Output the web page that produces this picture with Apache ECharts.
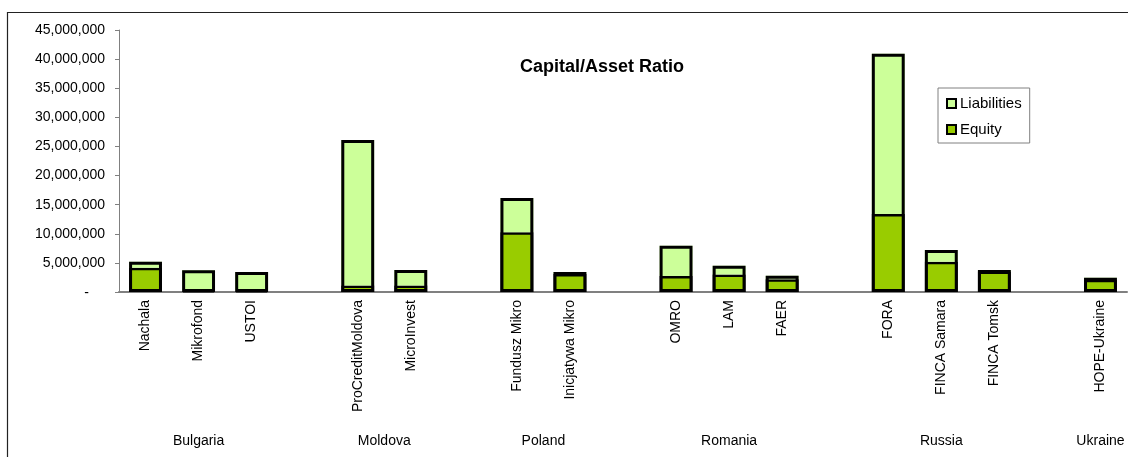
<!DOCTYPE html>
<html>
<head>
<meta charset="utf-8">
<script src="https://cdn.jsdelivr.net/npm/echarts@6/dist/echarts.min.js"></script>
<style>
  html, body { margin: 0; padding: 0; background: #fff; }
  #chart { width: 1128px; height: 457px; }
</style>
</head>
<body>
<div id="chart"></div>
<script>
// Institutions on the category axis; whitespace entries leave an empty slot between countries
const categories = [
  'Nachala', 'Mikrofond', 'USTOI', ' ',
  'ProCreditMoldova', 'MicroInvest', '  ',
  'Fundusz Mikro', 'Inicjatywa Mikro', '   ',
  'OMRO', 'LAM', 'FAER', '    ',
  'FORA', 'FINCA Samara', 'FINCA Tomsk', '     ',
  'HOPE-Ukraine'
];

// Equity (bottom of each stack)
const equity = [
  4150000, 300000, 300000, null,
  1100000, 1100000, null,
  10250000, 3100000, null,
  2750000, 3000000, 2200000, null,
  13400000, 5200000, 3500000, null,
  2100000
];

// Liabilities (top of each stack)
const liabilities = [
  1050000, 3450000, 3150000, null,
  25000000, 2700000, null,
  5900000, 350000, null,
  5200000, 1500000, 600000, null,
  27500000, 2000000, 300000, null,
  350000
];

// Country groups: label, first and last institution
const countries = [
  ['Bulgaria', 'Nachala', 'USTOI'],
  ['Moldova', 'ProCreditMoldova', 'MicroInvest'],
  ['Poland', 'Fundusz Mikro', 'Inicjatywa Mikro'],
  ['Romania', 'OMRO', 'FAER'],
  ['Russia', 'FORA', 'FINCA Tomsk'],
  ['Ukraine', 'HOPE-Ukraine', 'HOPE-Ukraine']
];

// Total assets, used only for the black outline around each stack
const totals = equity.map((e, i) => (e == null ? null : e + liabilities[i]));

const FONT = '"Liberation Sans", Arial, sans-serif';

function withCommas(v) {
  return String(v).replace(/\B(?=(\d{3})+(?!\d))/g, ',');
}

const chart = echarts.init(document.getElementById('chart'), null, { renderer: 'canvas' });

chart.setOption({
  backgroundColor: '#fff',
  animation: false,
  textStyle: { fontFamily: FONT, color: '#000' },
  title: {
    text: 'Capital/Asset Ratio',
    left: 520,
    top: 58,
    padding: 0,
    textStyle: { fontFamily: FONT, fontSize: 18, fontWeight: 'bold', color: '#000' }
  },
  legend: {
    data: ['Liabilities', 'Equity'],
    orient: 'vertical',
    left: 938,
    top: 88,
    padding: [8, 8, 6, 8],
    itemGap: 11,
    itemWidth: 9,
    itemHeight: 9,
    icon: 'rect',
    itemStyle: { borderColor: '#000', borderWidth: 2 },
    borderColor: '#808080',
    borderWidth: 1,
    backgroundColor: '#fff',
    selectedMode: false,
    textStyle: { fontFamily: FONT, fontSize: 15, color: '#000', padding: [0, 0, 0, -1] }
  },
  grid: { left: 119, right: 1, top: 30, bottom: 165, containLabel: false },
  xAxis: {
    type: 'category',
    data: categories,
    axisLine: { lineStyle: { color: '#808080', width: 2 } },
    axisTick: { show: false },
    axisLabel: {
      rotate: 90,
      interval: 0,
      margin: 8,
      fontFamily: FONT,
      fontSize: 14,
      color: '#000'
    }
  },
  yAxis: {
    type: 'value',
    min: 0,
    max: 45000000,
    interval: 5000000,
    splitLine: { show: false },
    axisLine: { show: true, lineStyle: { color: '#808080', width: 1 } },
    axisTick: { show: true, length: 4, lineStyle: { color: '#808080' } },
    axisLabel: {
      margin: 14,
      fontFamily: FONT,
      fontSize: 14,
      color: '#000',
      formatter: (v) => (v === 0 ? '{dash|-}' : withCommas(v)),
      rich: { dash: { fontFamily: FONT, fontSize: 14, color: '#000', padding: [2, 16, 0, 0] } }
    }
  },
  series: [
    {
      name: 'Equity',
      type: 'bar',
      stack: 'total',
      barCategoryGap: '38%',
      barGap: '-100%',
      data: equity,
      itemStyle: { color: '#99CC00', borderColor: '#000', borderWidth: 2.5 }
    },
    {
      name: 'Liabilities',
      type: 'bar',
      stack: 'total',
      barCategoryGap: '38%',
      barGap: '-100%',
      data: liabilities,
      itemStyle: { color: '#CCFF99', borderWidth: 0 }
    },
    {
      name: 'Total',
      type: 'bar',
      stack: 'outline',
      barCategoryGap: '38%',
      barGap: '-100%',
      silent: true,
      data: totals,
      itemStyle: { color: 'rgba(0,0,0,0)', borderColor: '#000', borderWidth: 3 }
    }
  ]
});

// Frame around the chart area, and country names centred under each group
const graphics = [
  {
    type: 'rect',
    silent: true,
    shape: { x: 7.5, y: 12.5, width: 1140, height: 460 },
    style: { fill: 'none', stroke: '#222', lineWidth: 1.2 }
  }
];
countries.forEach(([label, first, last]) => {
  const x0 = chart.convertToPixel({ xAxisIndex: 0 }, first);
  const x1 = chart.convertToPixel({ xAxisIndex: 0 }, last);
  graphics.push({
    type: 'text',
    silent: true,
    x: (x0 + x1) / 2,
    y: 441,
    style: {
      text: label,
      fontFamily: FONT,
      fontSize: 14,
      fill: '#000',
      align: 'center',
      verticalAlign: 'middle'
    }
  });
});
chart.setOption({ graphic: graphics });
</script>
</body>
</html>
